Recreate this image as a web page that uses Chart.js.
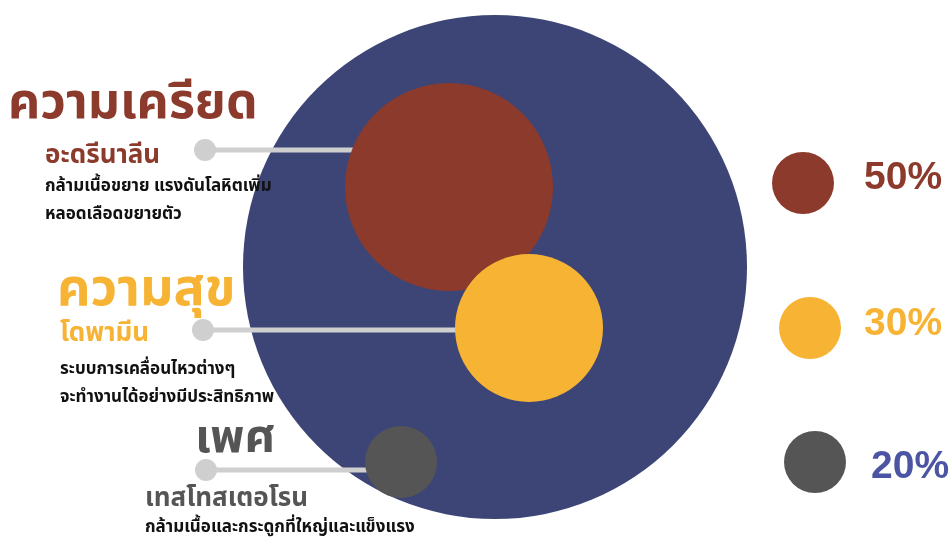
<!DOCTYPE html>
<html>
<head>
<meta charset="utf-8">
<script src="https://cdn.jsdelivr.net/npm/chart.js@4"></script>
<style>
  html, body { margin: 0; padding: 0; background: #ffffff; }
  #wrap { width: 951px; height: 538px; }
</style>
</head>
<body>
<div id="wrap"><canvas id="chart" width="951" height="538"></canvas></div>
<script>
// hormones and share of each emotion
const categories = ["ความเครียด", "ความสุข", "เพศ"];
const hormones = ["อะดรีนาลีน", "โดพามีน", "เทสโทสเตอโรน"];
const descriptions = [
  ["กล้ามเนื้อขยาย แรงดันโลหิตเพิ่ม", "หลอดเลือดขยายตัว"],
  ["ระบบการเคลื่อนไหวต่างๆ", "จะทำงานได้อย่างมีประสิทธิภาพ"],
  ["กล้ามเนื้อและกระดูกที่ใหญ่และแข็งแรง"]
];
const percents = [50, 30, 20];
const percentLabels = ["50%", "30%", "20%"];

// bubbles (x, y in grid units, r = radius)
const outerBubble = [{ x: 495, y: 267, r: 252 }];
const innerBubbles = [
  { x: 449, y: 187, r: 104 },
  { x: 529, y: 328, r: 74 },
  { x: 401, y: 462, r: 36 }
];
const legendBubbles = [
  { x: 803, y: 183, r: 31 },
  { x: 810, y: 328, r: 31 },
  { x: 815, y: 462, r: 31 }
];
const connectors = [
  [{ x: 205, y: 150 }, { x: 400, y: 150 }],
  [{ x: 203, y: 330 }, { x: 500, y: 330 }],
  [{ x: 206, y: 470 }, { x: 390, y: 470 }]
];

const colors = ["#8c3a2b", "#f7b334", "#555555"];
const navy = "#3d4577";
const lineGrey = "#cfcfcf";
const thaiFont = '"Noto Sans Thai", "Loma", "Garuda", "Noto Sans", sans-serif';

const textPlugin = {
  id: "labels",
  afterDraw(chart) {
    const ctx = chart.ctx;
    ctx.save();
    ctx.textBaseline = "alphabetic";
    ctx.textAlign = "left";

    // headings + hormones + descriptions
    const heads = [
      { x: 8, y: 118, size: 50 },
      { x: 57, y: 305, size: 52 },
      { x: 195, y: 452, size: 47 }
    ];
    const subs = [
      { x: 45, y: 163 },
      { x: 60, y: 341 },
      { x: 145, y: 506 }
    ];
    const descTop = [191, 374, 532];
    for (let i = 0; i < categories.length; i++) {
      ctx.fillStyle = colors[i];
      ctx.font = "bold " + heads[i].size + "px " + thaiFont;
      ctx.fillText(categories[i], heads[i].x, heads[i].y);
      ctx.font = "bold 26px " + thaiFont;
      ctx.fillText(hormones[i], subs[i].x, subs[i].y);
      ctx.fillStyle = "#111111";
      ctx.font = "bold 17px " + thaiFont;
      descriptions[i].forEach((line, j) => {
        ctx.fillText(line, subs[i].x, descTop[i] + j * 28);
      });
    }

    // percentages beside the legend dots
    const pctColors = ["#8c3a2b", "#f7b334", "#4b55a3"];
    const pctX = [864, 864, 871];
    const pctDrop = [6, 7, 16];
    const meta = chart.getDatasetMeta(0);
    ctx.font = "bold 39px 'Liberation Sans', Arial, sans-serif";
    for (let i = 0; i < percents.length; i++) {
      ctx.fillStyle = pctColors[i];
      ctx.fillText(percentLabels[i], pctX[i], meta.data[i].y + pctDrop[i]);
    }
    ctx.restore();
  }
};

const datasets = [
  {
    type: "bubble",
    data: legendBubbles,
    backgroundColor: colors,
    borderWidth: 0,
    order: 0
  },
  {
    type: "bubble",
    data: innerBubbles,
    backgroundColor: colors,
    borderWidth: 0,
    order: 1
  }
];
connectors.forEach((pts) => {
  datasets.push({
    type: "scatter",
    showLine: true,
    data: pts,
    borderColor: lineGrey,
    backgroundColor: lineGrey,
    borderWidth: 5,
    pointRadius: [11, 0],
    pointBorderWidth: 0,
    order: 2
  });
});
datasets.push({
  type: "bubble",
  data: outerBubble,
  backgroundColor: navy,
  borderWidth: 0,
  order: 3
});

new Chart(document.getElementById("chart"), {
  type: "bubble",
  data: { datasets: datasets },
  options: {
    responsive: false,
    animation: false,
    clip: false,
    layout: { padding: 0, autoPadding: false },
    plugins: { legend: { display: false }, tooltip: { enabled: false } },
    scales: {
      x: { type: "linear", min: 0, max: 951, display: false },
      y: { type: "linear", min: 0, max: 538, reverse: true, display: false }
    }
  },
  plugins: [textPlugin]
});
</script>
</body>
</html>
